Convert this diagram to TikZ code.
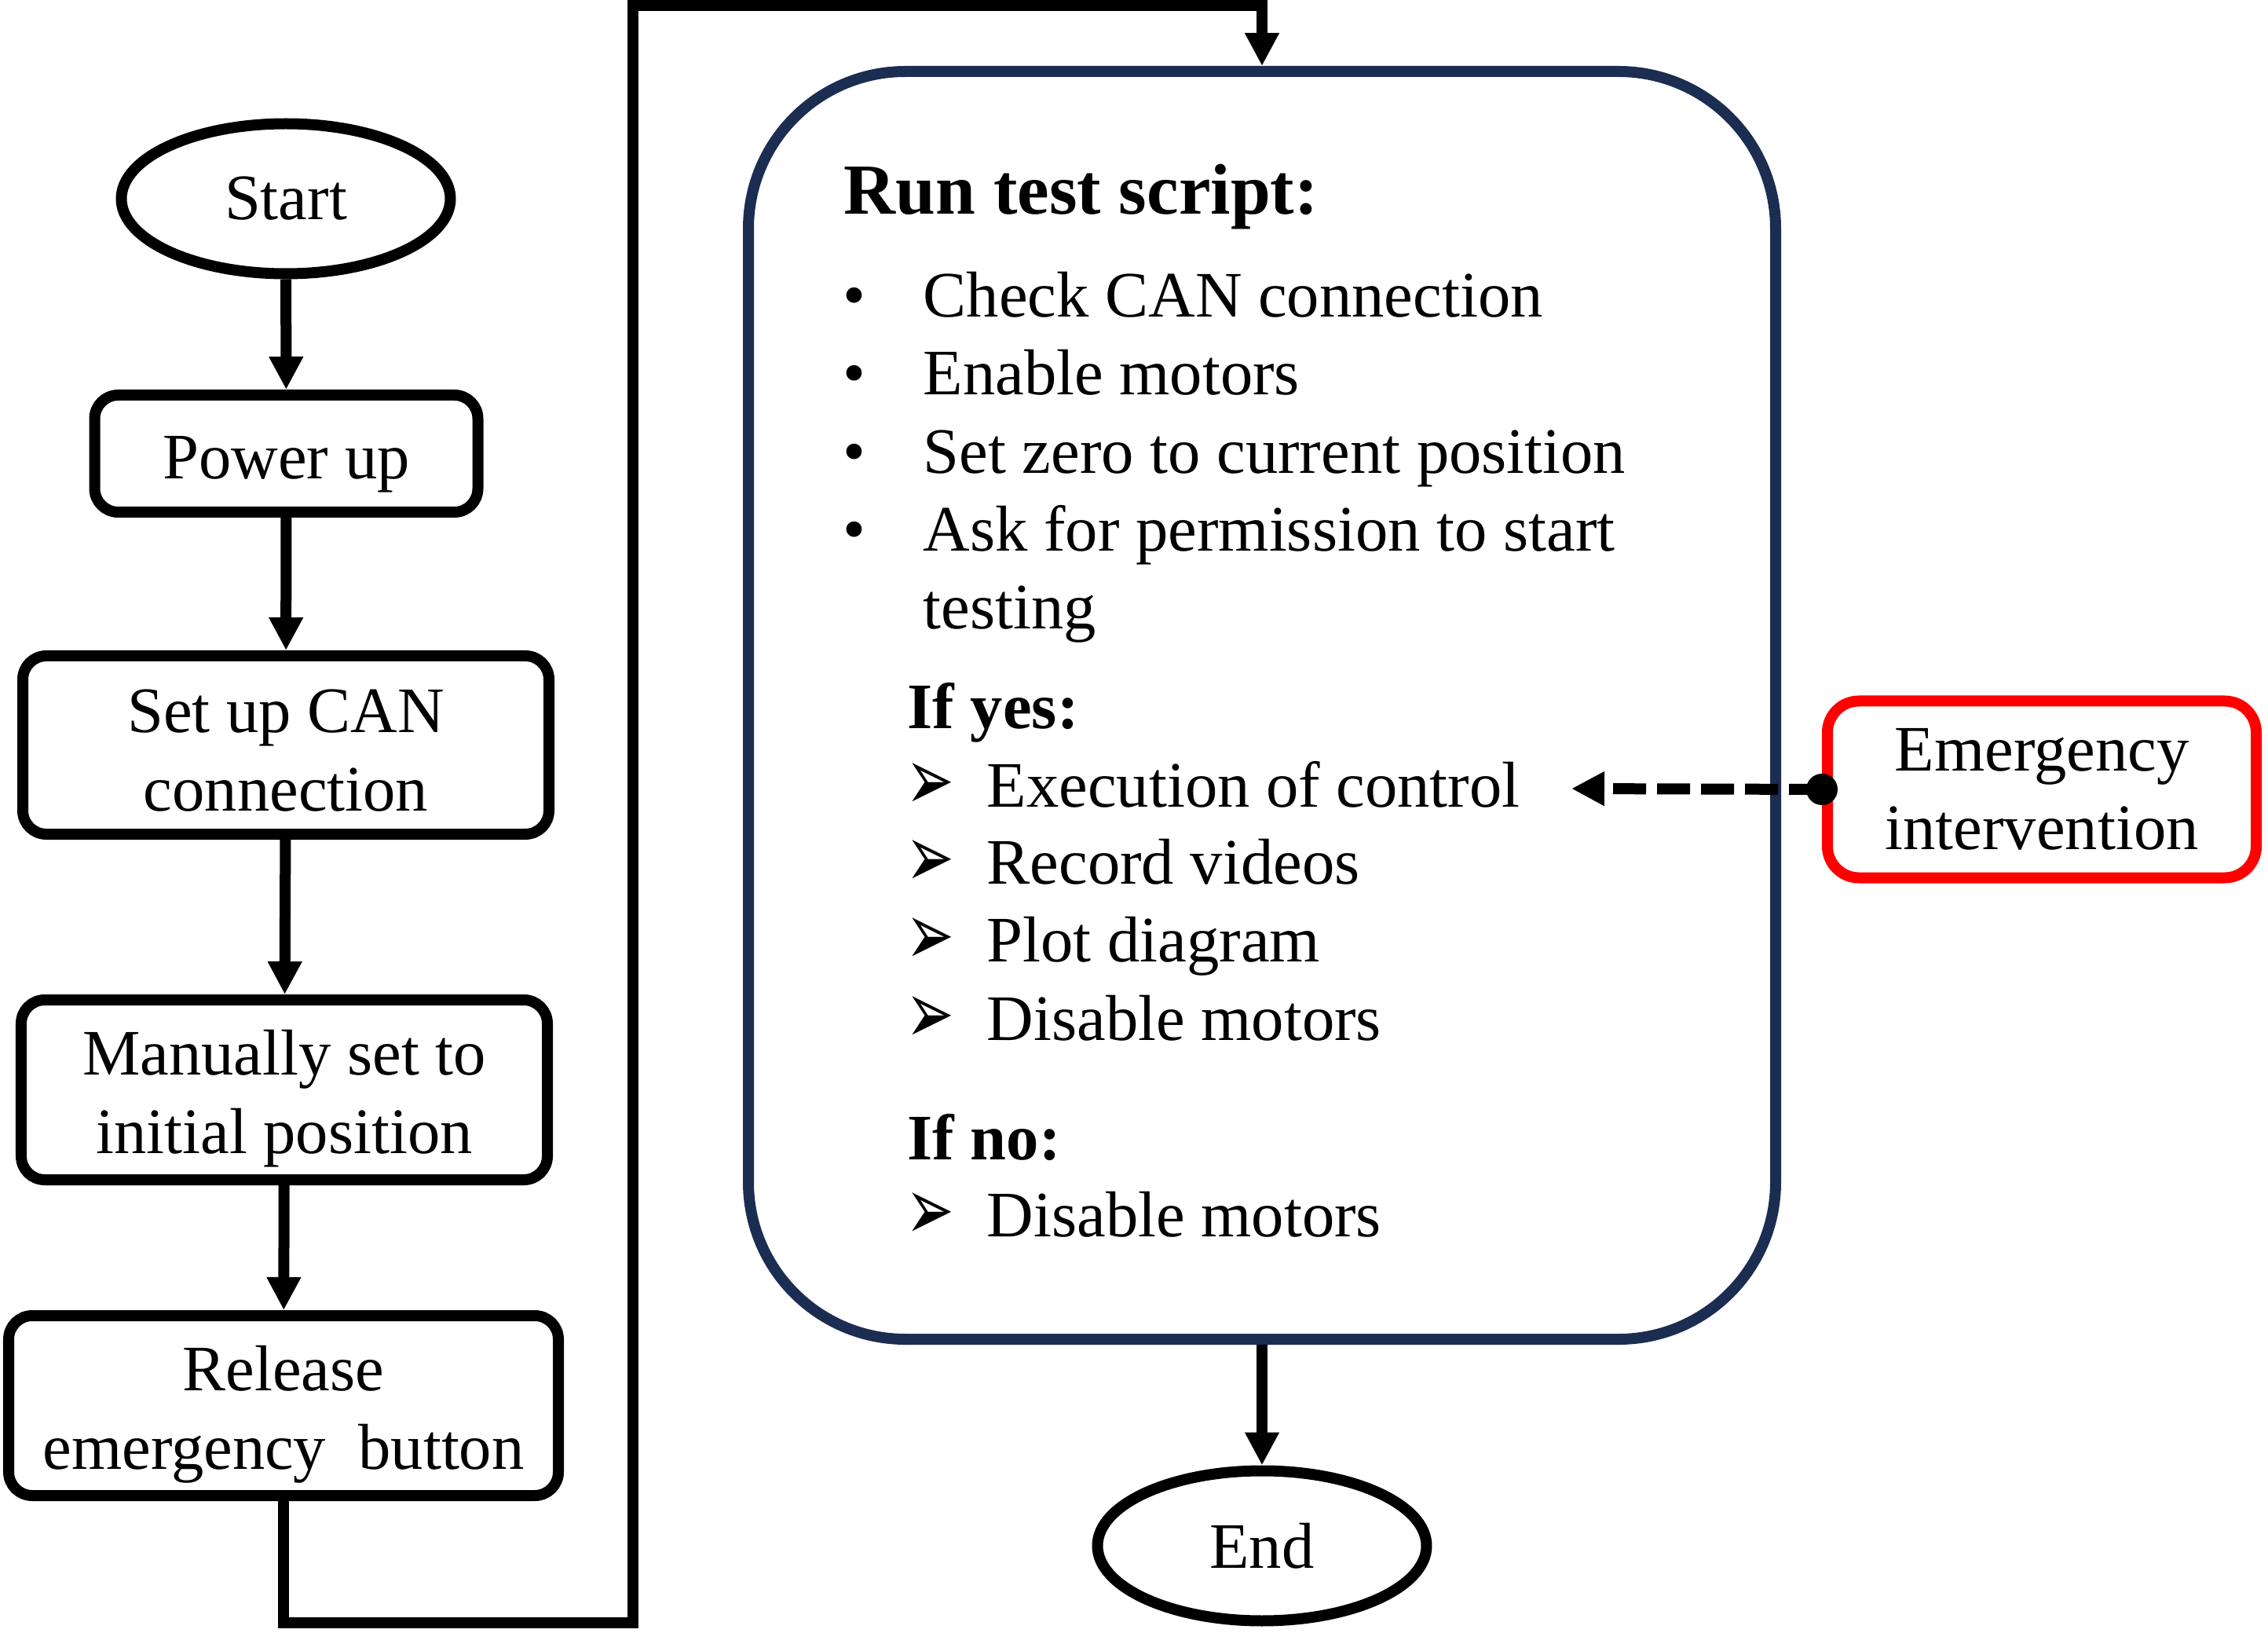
\documentclass[tikz,border=0pt]{standalone}
\usepackage{fontspec}
\setmainfont{Liberation Serif}
\newfontfamily\dingfont{DejaVu Sans}
\usetikzlibrary{shapes.geometric,arrows.meta}

\definecolor{navy}{RGB}{28,45,82}
\newcommand{\bul}{\makebox[1.02cm][l]{•}}
\newcommand{\arr}{\makebox[1.03cm][l]{\smash{\raisebox{-0.04cm}{\scalebox{1.05}[1.6]{\dingfont\fontsize{20}{24}\selectfont ➢}}}}}
\newcommand{\topgap}[1]{\rule{0pt}{#1cm}}

\tikzset{
  txt/.style={font=\fontsize{23.5}{28.45}\selectfont},
  head/.style={font=\fontsize{23.5}{28.45}\selectfont\bfseries},
  term/.style={ellipse,draw,line width=1.4mm,minimum width=4.19cm,minimum height=1.91cm,inner sep=0pt,txt},
  stepbox/.style={rectangle,rounded corners=3mm,draw,line width=1.4mm,align=center,inner sep=0pt,txt},
  flow/.style={line width=1.4mm,line join=miter,-{Triangle[length=4.2mm,width=4.1mm]}},
}

\begin{document}
\begin{tikzpicture}

        \useasboundingbox (0,0) rectangle (28.88,-20.79);

        \node[term] (start) at (3.64,-2.53) {Start};
        \node[stepbox,minimum width=4.88cm,minimum height=1.49cm] (power) at (3.645,-5.775) {\topgap{0.82}Power up};
        \node[stepbox,minimum width=6.70cm,minimum height=2.27cm] (canset) at (3.64,-9.485) {\topgap{0.68}Set up CAN\\connection};
        \node[stepbox,minimum width=6.70cm,minimum height=2.29cm] (manual) at (3.62,-13.875) {\topgap{0.80}Manually set to\\initial position};
        \node[stepbox,minimum width=7.00cm,minimum height=2.29cm] (release) at (3.61,-17.895) {\topgap{0.80}Release\\emergency\ \ button};

        \node[draw=navy,line width=1.4mm,rounded corners=2cm,minimum width=13.08cm,minimum height=16.14cm,inner sep=0pt] (run) at (16.07,-8.98) {};
        \node[term] (end) at (16.07,-19.68) {End};
        \node[stepbox,draw=red,rounded corners=4mm,minimum width=5.46cm,minimum height=2.25cm] (emerg) at (26.00,-10.05) {Emergency\\intervention};

        \begin{scope}[every node/.style={anchor=base west,inner sep=0pt,txt}]
          \node[font=\fontsize{26}{31}\selectfont\bfseries] (title) at (10.74,-2.73) {Run test script:};
          \node (chk)   at (10.73,-4.04) {\bul Check CAN connection};
          \node (enab)  at (10.73,-5.03) {\bul Enable motors};
          \node (zero)  at (10.73,-6.03) {\bul Set zero to current position};
          \node (ask)   at (10.73,-7.02) {\bul Ask for permission to start};
          \node (ask2)  at (11.75,-8.01) {testing};
          \node[head] (ifyes) at (11.55,-9.28) {If yes:};
          \node (exec)  at (11.53,-10.27) {\arr Execution of control};
          \node (rec)   at (11.53,-11.25) {\arr Record videos};
          \node (plot)  at (11.53,-12.24) {\arr Plot diagram};
          \node (dis)   at (11.53,-13.24) {\arr Disable motors};
          \node[head] (ifno) at (11.55,-14.76) {If no:};
          \node (dis2)  at (11.53,-15.74) {\arr Disable motors};
        \end{scope}

        \coordinate (low)  at (8.06,-20.66);
        \coordinate (high) at (8.06,-0.07);
        \coordinate (tip)  at (20.01,-10.04);

        \draw[flow] (start) -- (power);
        \draw[flow] (power) -- (canset);
        \draw[flow] (canset) -- (manual);
        \draw[flow] (manual) -- (release);
        \draw[flow] (release.south) |- (low) -- (high) -| (run.north);
        \draw[flow] (run) -- (end);

        \node[circle,fill,inner sep=0pt,minimum size=4mm] (dot) at (emerg.west) {};
        \draw[flow,dash pattern=on 4.2mm off 1.4mm] (dot.center) -- (tip);

      \end{tikzpicture}
\end{document}
